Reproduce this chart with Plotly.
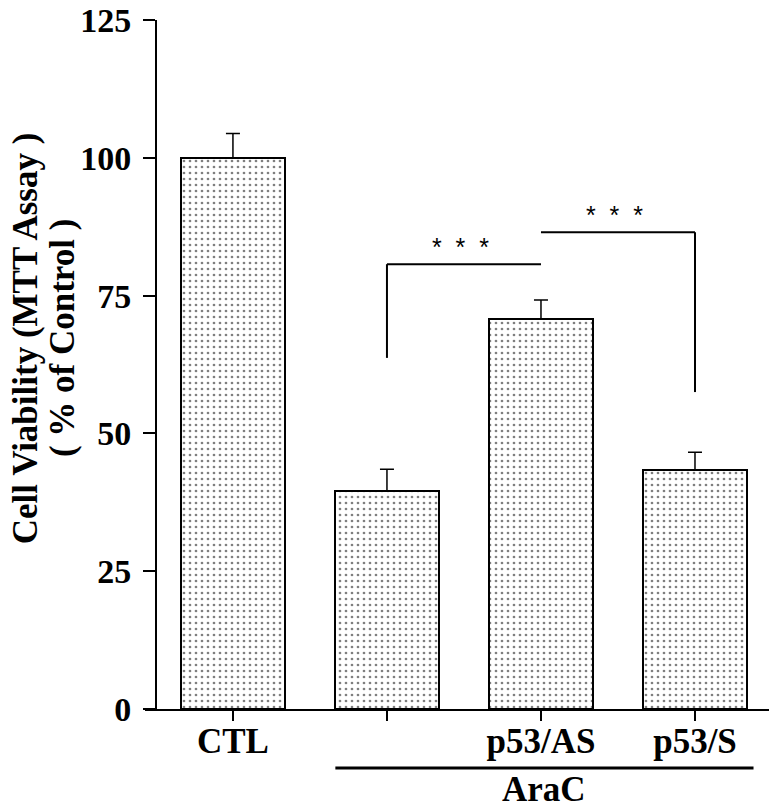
import plotly.graph_objects as go

# ---- data ----
categories = ["CTL", "", "p53/AS", "p53/S"]
viability = [100.0, 39.5, 70.8, 43.4]
sem = [4.4, 4.0, 3.4, 3.2]
y_ticks = [0, 25, 50, 75, 100, 125]

# significance brackets: horizontal from group `sig_anchor` to `sig_other`, drop at `sig_other`
sig_anchor = [2, 2]
sig_other = [1, 3]
sig_level = [80.7, 86.5]
sig_drop = [63.7, 57.5]
sig_label = ["*\u00a0\u00a0*\u00a0\u00a0*", "*\u00a0\u00a0*\u00a0\u00a0*"]

group_label = "AraC"
group_members = [1, 2, 3]

x = list(range(len(categories)))
bar_width = 0.67
SERIF = "Liberation Serif"

fig = go.Figure()
fig.add_trace(go.Bar(
    x=x, y=viability, width=bar_width,
    marker=dict(color="white",
                line=dict(color="black", width=2),
                pattern=dict(shape=".", fgcolor="black", bgcolor="white",
                             size=6, solidity=0.16)),
    error_y=dict(type="data", array=sem, arrayminus=[0] * len(sem),
                 symmetric=False, color="black", thickness=1.5, width=7),
    showlegend=False,
))

# brackets
for a, o, lvl, drop in zip(sig_anchor, sig_other, sig_level, sig_drop):
    fig.add_shape(type="line", xref="x", yref="y", x0=a, x1=o, y0=lvl, y1=lvl,
                  line=dict(color="black", width=2))
    fig.add_shape(type="line", xref="x", yref="y", x0=o, x1=o, y0=lvl, y1=drop,
                  line=dict(color="black", width=2))
for a, o, lvl, lab in zip(sig_anchor, sig_other, sig_level, sig_label):
    fig.add_annotation(x=(a + o) / 2 - 0.02, y=lvl, xref="x", yref="y",
                       text=lab, showarrow=False, yanchor="bottom", yshift=1,
                       font=dict(family="Liberation Sans", size=25, color="black"))

# group line and label under the axis
gx0 = min(group_members) - bar_width / 2
gx1 = max(group_members) + 0.38
fig.add_shape(type="line", xref="x", yref="paper", x0=gx0, x1=gx1, y0=-0.0856, y1=-0.0856,
              line=dict(color="black", width=3))
fig.add_annotation(x=(gx0 + gx1) / 2, y=-0.117, xref="x", yref="paper",
                   text=group_label, showarrow=False, yanchor="middle", borderpad=0,
                   font=dict(family=SERIF, size=35, color="black", weight="bold"))

# y-axis title as two rotated lines
fig.add_annotation(x=-0.19, y=0.5385, xref="paper", yref="paper",
                   text="Cell Viability (MTT Assay )", textangle=-90, showarrow=False,
                   xanchor="center", yanchor="middle", borderpad=0,
                   font=dict(family=SERIF, size=35, color="black", weight="bold"))
fig.add_annotation(x=-0.131, y=0.5385, xref="paper", yref="paper",
                   text="( % of Control )", textangle=-90, showarrow=False,
                   xanchor="center", yanchor="middle", borderpad=0,
                   font=dict(family=SERIF, size=35, color="black", weight="bold"))

# page body has an 8px margin, so the figure is sized/offset to compensate
fig.update_layout(
    width=769, height=796,
    margin=dict(l=137, r=7, t=12, b=95, autoexpand=False),
    plot_bgcolor="white", paper_bgcolor="white",
    xaxis=dict(range=[-0.571, 3.487], tickvals=x, ticktext=categories,
               showline=True, linecolor="black", linewidth=2,
               ticks="outside", ticklen=10, tickwidth=2, tickcolor="black",
               showgrid=False, zeroline=False, automargin=False,
               ticklabelstandoff=-10, ticklabeloverflow="allow",
               tickfont=dict(family=SERIF, size=35, color="black", weight="bold")),
    yaxis=dict(range=[0, 125], tickvals=y_ticks, anchor="free", position=0.0176,
               showline=True, linecolor="black", linewidth=2,
               ticks="outside", ticklen=12, tickwidth=2, tickcolor="black",
               showgrid=False, zeroline=False, automargin=False,
               ticklabelstandoff=5, ticklabeloverflow="allow",
               tickfont=dict(family=SERIF, size=34, color="black", weight="bold")),
    bargap=0,
)

fig.write_html("out.html")
